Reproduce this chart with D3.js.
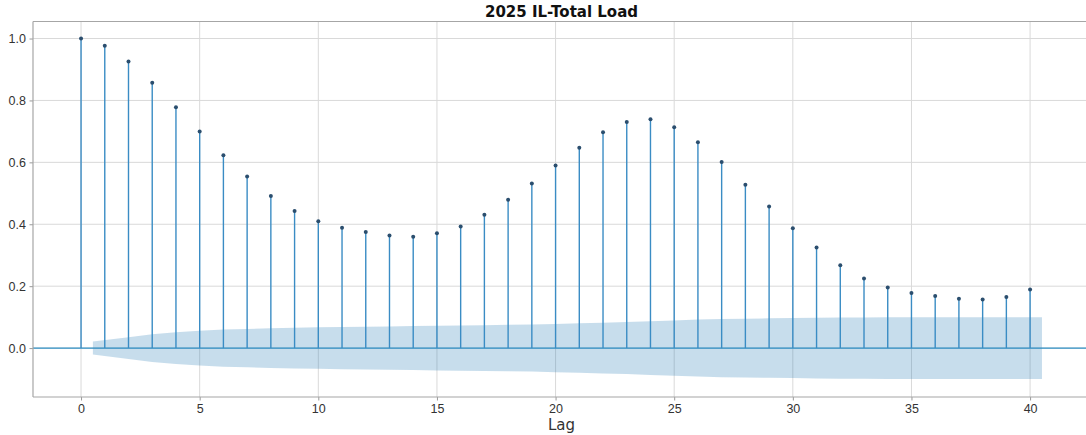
<!DOCTYPE html>
<html>
<head>
<meta charset="utf-8">
<script src="https://cdn.jsdelivr.net/npm/d3@7.9.0/dist/d3.min.js"></script>
<style>
  body { margin: 0; background: #fff; }
  svg { display: block; font-family: "DejaVu Sans", sans-serif; }
  .tick text { fill: #333; font-size: 12.5px; }
</style>
</head>
<body>
<svg id="chart" width="1086" height="435"></svg>
<script>
// autocorrelation by lag
const lags = d3.range(0, 41);
const acfValues = [
  1.000, 0.977, 0.926, 0.857, 0.778, 0.700, 0.623, 0.554, 0.491, 0.443,
  0.410, 0.389, 0.375, 0.364, 0.360, 0.371, 0.393, 0.431, 0.479, 0.532,
  0.590, 0.647, 0.697, 0.730, 0.739, 0.713, 0.665, 0.601, 0.528, 0.457,
  0.387, 0.325, 0.268, 0.225, 0.196, 0.178, 0.168, 0.159, 0.157, 0.165,
  0.189
];
// half width of the shaded confidence band, lags 1..40
const confBand = [
  0.021, 0.035, 0.045, 0.051, 0.056, 0.060, 0.062, 0.064, 0.066, 0.067,
  0.068, 0.069, 0.070, 0.071, 0.072, 0.073, 0.074, 0.075, 0.076, 0.078,
  0.080, 0.082, 0.084, 0.087, 0.089, 0.092, 0.094, 0.095, 0.096, 0.097,
  0.098, 0.099, 0.099, 0.100, 0.100, 0.100, 0.100, 0.100, 0.100, 0.100
];
const xTicks = [0, 5, 10, 15, 20, 25, 30, 35, 40];
const yTicks = [0.0, 0.2, 0.4, 0.6, 0.8, 1.0];
const title = '2025 IL-Total Load';

const margin = { top: 21.5, left: 33, bottom: 38, right: -4 };
const width = 1086, height = 435;

const svg = d3.select('#chart');

const x = d3.scaleLinear()
  .domain([-2.025, 42.525])
  .range([margin.left, width - margin.right]);
const y = d3.scaleLinear()
  .domain([-0.158, 1.055])
  .range([height - margin.bottom, margin.top]);

// grid
const grid = svg.append('g').attr('stroke', '#d9d9d9').attr('stroke-width', 1);
grid.selectAll('.gx')
  .data(xTicks)
  .enter()
  .append('line')
  .attr('x1', d => x(d)).attr('x2', d => x(d))
  .attr('y1', y.range()[1]).attr('y2', y.range()[0]);
grid.selectAll('.gy')
  .data(yTicks)
  .enter()
  .append('line')
  .attr('x1', x.range()[0]).attr('x2', x.range()[1])
  .attr('y1', d => y(d)).attr('y2', d => y(d));

// confidence band: first point shifted to 0.5, last to 40.5
const bandLags = lags.slice(1).map((l, i, arr) =>
  i === 0 ? l - 0.5 : (i === arr.length - 1 ? l + 0.5 : l));
const bandData = bandLags.map((l, i) => ({ lag: l, w: confBand[i] }));
const area = d3.area()
  .x(d => x(d.lag))
  .y0(d => y(-d.w))
  .y1(d => y(d.w));
svg.append('path')
  .datum(bandData)
  .attr('d', area)
  .attr('fill', '#1f77b4')
  .attr('fill-opacity', 0.25);

// zero line
svg.append('line')
  .attr('x1', x.range()[0]).attr('x2', x.range()[1])
  .attr('y1', y(0)).attr('y2', y(0))
  .attr('stroke', '#2f8fc4')
  .attr('stroke-width', 1.3);

// stems
svg.append('g')
  .selectAll('line')
  .data(lags)
  .enter()
  .append('line')
  .attr('x1', d => x(d)).attr('x2', d => x(d))
  .attr('y1', y(0))
  .attr('y2', (d, i) => y(acfValues[i]))
  .attr('stroke', '#3a8cc4')
  .attr('stroke-width', 1.4);

// markers
svg.append('g')
  .selectAll('circle')
  .data(lags)
  .enter()
  .append('circle')
  .attr('cx', d => x(d))
  .attr('cy', (d, i) => y(acfValues[i]))
  .attr('r', 2)
  .attr('fill', '#2b4e6e');

// axes
const xAxis = svg.append('g')
  .attr('transform', `translate(0,${y.range()[0]})`)
  .call(d3.axisBottom(x).tickValues(xTicks).tickFormat(d3.format('d')).tickSize(3.5).tickPadding(3.5));
const yAxis = svg.append('g')
  .attr('transform', `translate(${x.range()[0]},0)`)
  .call(d3.axisLeft(y).tickValues(yTicks).tickFormat(d3.format('.1f')).tickSize(3.5).tickPadding(3.5));
[xAxis, yAxis].forEach(a => {
  a.select('.domain').remove();
  a.selectAll('.tick line').attr('stroke', '#999');
});

// spines (top, left, bottom)
const spines = svg.append('g').attr('stroke', '#a6a6a6').attr('stroke-width', 1.2).attr('fill', 'none');
spines.append('line')
  .attr('x1', x.range()[0]).attr('x2', width)
  .attr('y1', y.range()[1]).attr('y2', y.range()[1]);
spines.append('line')
  .attr('x1', x.range()[0]).attr('x2', width)
  .attr('y1', y.range()[0]).attr('y2', y.range()[0]);
spines.append('line')
  .attr('x1', x.range()[0]).attr('x2', x.range()[0])
  .attr('y1', y.range()[1]).attr('y2', y.range()[0]);

// labels
svg.append('text')
  .attr('x', (x.range()[0] + x.range()[1]) / 2)
  .attr('y', 16.5)
  .attr('text-anchor', 'middle')
  .attr('font-size', 15)
  .attr('font-weight', 'bold')
  .attr('fill', '#111')
  .text(title);

svg.append('text')
  .attr('x', (x.range()[0] + x.range()[1]) / 2)
  .attr('y', 430)
  .attr('text-anchor', 'middle')
  .attr('font-size', 15)
  .attr('fill', '#333')
  .text('Lag');
</script>
</body>
</html>
